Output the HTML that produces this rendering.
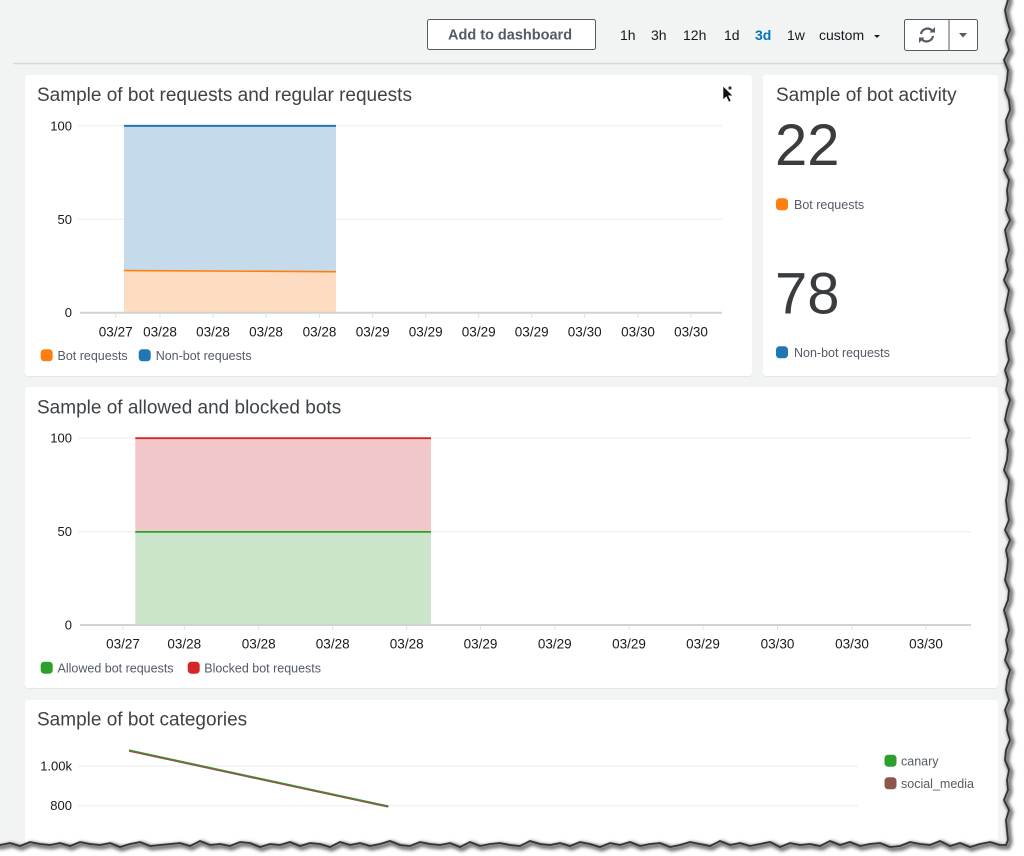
<!DOCTYPE html>
<html><head><meta charset="utf-8"><style>
html,body{margin:0;padding:0;width:1024px;height:856px;overflow:hidden;background:#fff}
svg{display:block}
text{font-family:"Liberation Sans",Arial,sans-serif}
.t{font-size:19px;fill:#3e4347}
.yl{font-size:13px;fill:#16191f;text-anchor:end}
.xl{font-size:13.5px;fill:#16191f;text-anchor:middle}
.lg{font-size:12.5px;fill:#545b64}
.tm{font-size:14px;fill:#16191f}
.grid{stroke:#eaeded;stroke-width:1}
.axis{stroke:#cfd3d3;stroke-width:2}
.tick{stroke:#dfe2e2;stroke-width:1}
</style></head><body>
<svg width="1024" height="856" viewBox="0 0 1024 856" xmlns="http://www.w3.org/2000/svg">
<defs>
<filter id="blur" x="-5%" y="-5%" width="110%" height="110%"><feGaussianBlur stdDeviation="1.6"/></filter>
</defs>
<rect x="0" y="0" width="1024" height="856" fill="#f2f3f3"/>

<rect x="427.5" y="19.5" width="168" height="30" rx="2" fill="#fff" stroke="#545b64" stroke-width="1"/>
<text x="448" y="39.5" style="font-size:14.5px;font-weight:bold;fill:#545b64">Add to dashboard</text>
<text class="tm" x="620" y="40">1h</text>
<text class="tm" x="651" y="40">3h</text>
<text class="tm" x="683" y="40">12h</text>
<text class="tm" x="724" y="40">1d</text>
<text class="tm" x="755" y="40" style="fill:#0073bb;font-weight:bold">3d</text>
<text class="tm" x="787" y="40">1w</text>
<text class="tm" x="819" y="40">custom</text>
<polygon points="874,35 880,35 877,38" fill="#16191f"/>
<rect x="904.5" y="19.5" width="73" height="31" rx="2" fill="#fff" stroke="#545b64" stroke-width="1"/>
<line x1="949" y1="19.5" x2="949" y2="50.5" stroke="#545b64" stroke-width="1"/>
<path d="M921,34 A6.5,6.5 0 0 1 932,30.5" fill="none" stroke="#545b64" stroke-width="2.2"/>
<polygon points="929.5,32.5 935,32.5 935,27" fill="#545b64"/>
<path d="M933,36 A6.5,6.5 0 0 1 922,39.5" fill="none" stroke="#545b64" stroke-width="2.2"/>
<polygon points="924.5,37.5 919,37.5 919,43" fill="#545b64"/>
<polygon points="959,33 967,33 963,37.5" fill="#545b64"/>
<line x1="13" y1="63.5" x2="1008" y2="63.5" stroke="#d5dbdb" stroke-width="1.5"/>

<rect x="25" y="76" width="727" height="301" rx="3" fill="#e4e7e7"/>
<rect x="25" y="75" width="727" height="301" rx="3" fill="#fff"/>
<rect x="763" y="76" width="235" height="301" rx="3" fill="#e4e7e7"/>
<rect x="763" y="75" width="235" height="301" rx="3" fill="#fff"/>
<rect x="25" y="388" width="973" height="301" rx="3" fill="#e4e7e7"/>
<rect x="25" y="387" width="973" height="301" rx="3" fill="#fff"/>
<rect x="25" y="700" width="973" height="143" rx="3" fill="#fff"/>

<text class="t" x="37" y="101">Sample of bot requests and regular requests</text>
<line class="grid" x1="78" y1="125.7" x2="722" y2="125.7"/>
<line class="grid" x1="78" y1="219.3" x2="722" y2="219.3"/>
<polygon points="124,125.7 336,125.7 336,271.7 124,270.5" fill="#c5daea"/>
<polygon points="124,270.5 336,271.7 336,312 124,312" fill="#fedcc2"/>
<line x1="124" y1="125.9" x2="336" y2="125.9" stroke="#1f77b4" stroke-width="2"/>
<line x1="124" y1="270.5" x2="336" y2="271.7" stroke="#ff7f0e" stroke-width="1.6"/>
<line class="axis" x1="80" y1="312.7" x2="722" y2="312.7"/>
<g class="tick">
<line x1="115.7" y1="314" x2="115.7" y2="318"/><line x1="160" y1="314" x2="160" y2="318"/><line x1="213" y1="314" x2="213" y2="318"/><line x1="266" y1="314" x2="266" y2="318"/><line x1="319.5" y1="314" x2="319.5" y2="318"/><line x1="372.7" y1="314" x2="372.7" y2="318"/><line x1="425.7" y1="314" x2="425.7" y2="318"/><line x1="478.7" y1="314" x2="478.7" y2="318"/><line x1="531.7" y1="314" x2="531.7" y2="318"/><line x1="584.7" y1="314" x2="584.7" y2="318"/><line x1="638" y1="314" x2="638" y2="318"/><line x1="691" y1="314" x2="691" y2="318"/>
</g>
<text class="yl" x="72" y="130.5">100</text>
<text class="yl" x="72" y="224">50</text>
<text class="yl" x="72" y="317">0</text>
<g>
<text class="xl" x="115.7" y="336.5">03/27</text><text class="xl" x="160" y="336.5">03/28</text><text class="xl" x="213" y="336.5">03/28</text><text class="xl" x="266" y="336.5">03/28</text><text class="xl" x="319.5" y="336.5">03/28</text><text class="xl" x="372.7" y="336.5">03/29</text><text class="xl" x="425.7" y="336.5">03/29</text><text class="xl" x="478.7" y="336.5">03/29</text><text class="xl" x="531.7" y="336.5">03/29</text><text class="xl" x="584.7" y="336.5">03/30</text><text class="xl" x="638" y="336.5">03/30</text><text class="xl" x="691" y="336.5">03/30</text>
</g>
<rect x="40.7" y="349.3" width="12" height="12" rx="3.5" fill="#ff7f0e"/>
<text class="lg" x="57.5" y="360">Bot requests</text>
<rect x="138.7" y="349.3" width="12" height="12" rx="3.5" fill="#1f77b4"/>
<text class="lg" x="155.7" y="360">Non-bot requests</text>

<polygon points="723,86 723,100 726.3,96.8 728.8,102 731,101 728.6,95.8 733,95.8" fill="#111" stroke="#fff" stroke-width="0.6"/>
<circle cx="730" cy="88" r="1.6" fill="#333"/>

<text class="t" x="776" y="101">Sample of bot activity</text>
<text x="775" y="165" style="font-size:58px;fill:#3a3d40">22</text>
<rect x="776" y="198.3" width="12" height="12" rx="3.5" fill="#ff7f0e"/>
<text class="lg" x="794" y="209">Bot requests</text>
<text x="775" y="313.5" style="font-size:58px;fill:#3a3d40">78</text>
<rect x="776" y="346.3" width="12" height="12" rx="3.5" fill="#1f77b4"/>
<text class="lg" x="794" y="357">Non-bot requests</text>

<text class="t" x="37" y="413.5">Sample of allowed and blocked bots</text>
<line class="grid" x1="78" y1="438" x2="971" y2="438"/>
<line class="grid" x1="78" y1="531.7" x2="971" y2="531.7"/>
<polygon points="135.3,438 431,438 431,531.7 135.3,531.7" fill="#f2c7c9"/>
<polygon points="135.3,531.7 431,531.7 431,624 135.3,624" fill="#cbe5ca"/>
<line x1="135.3" y1="438.2" x2="431" y2="438.2" stroke="#d62728" stroke-width="1.8"/>
<line x1="135.3" y1="531.9" x2="431" y2="531.9" stroke="#2ca02c" stroke-width="1.8"/>
<line class="axis" x1="80" y1="625" x2="971" y2="625"/>
<g class="tick">
<line x1="123" y1="626" x2="123" y2="630"/><line x1="184.3" y1="626" x2="184.3" y2="630"/><line x1="258.7" y1="626" x2="258.7" y2="630"/><line x1="332.7" y1="626" x2="332.7" y2="630"/><line x1="406.7" y1="626" x2="406.7" y2="630"/><line x1="480.5" y1="626" x2="480.5" y2="630"/><line x1="554.8" y1="626" x2="554.8" y2="630"/><line x1="629" y1="626" x2="629" y2="630"/><line x1="703" y1="626" x2="703" y2="630"/><line x1="777.5" y1="626" x2="777.5" y2="630"/><line x1="852" y1="626" x2="852" y2="630"/><line x1="926" y1="626" x2="926" y2="630"/>
</g>
<text class="yl" x="72" y="442.5">100</text>
<text class="yl" x="72" y="536">50</text>
<text class="yl" x="72" y="629.5">0</text>
<g>
<text class="xl" x="123" y="648.5">03/27</text><text class="xl" x="184.3" y="648.5">03/28</text><text class="xl" x="258.7" y="648.5">03/28</text><text class="xl" x="332.7" y="648.5">03/28</text><text class="xl" x="406.7" y="648.5">03/28</text><text class="xl" x="480.5" y="648.5">03/29</text><text class="xl" x="554.8" y="648.5">03/29</text><text class="xl" x="629" y="648.5">03/29</text><text class="xl" x="703" y="648.5">03/29</text><text class="xl" x="777.5" y="648.5">03/30</text><text class="xl" x="852" y="648.5">03/30</text><text class="xl" x="926" y="648.5">03/30</text>
</g>
<rect x="40.7" y="661.7" width="12" height="12" rx="3.5" fill="#2ca02c"/>
<text class="lg" x="57.5" y="672.3">Allowed bot requests</text>
<rect x="187.7" y="661.7" width="12" height="12" rx="3.5" fill="#d62728"/>
<text class="lg" x="204.3" y="672.3">Blocked bot requests</text>

<text class="t" x="37" y="725.5">Sample of bot categories</text>
<line class="grid" x1="78" y1="766" x2="858" y2="766"/>
<line class="grid" x1="78" y1="805.7" x2="858" y2="805.7"/>
<line x1="129" y1="750.2" x2="388.5" y2="806.2" stroke="#2ca02c" stroke-width="1.6"/>
<line x1="129" y1="751" x2="388" y2="806.9" stroke="#8c564b" stroke-width="1.5"/>
<text class="yl" x="72" y="770.5">1.00k</text>
<text class="yl" x="72" y="810">800</text>
<rect x="884.5" y="754.7" width="12" height="12" rx="3.5" fill="#2ca02c"/>
<text class="lg" x="901" y="765.5">canary</text>
<rect x="884.5" y="777.3" width="12" height="12" rx="3.5" fill="#8c564b"/>
<text class="lg" x="901" y="788">social_media</text>

<path fill="#fff" fill-rule="evenodd" d="M0,0 H1024 V856 H0 Z M-5,-5 L1009,-5 L1008,0 L1005,10 L1007,20 L1010,30 L1006,40 L1009,50 L1004,60 L1008,70 L1007,80 L1005,90 L1009,100 L1010,110 L1006,120 L1007,130 L1009,140 L1005,150 L1008,160 L1004,170 L1009,180 L1007,190 L1008,200 L1006,210 L1010,220 L1005,230 L1007,240 L1009,250 L1006,260 L1008,270 L1004,280 L1009,290 L1007,300 L1005,310 L1008,320 L1010,330 L1006,340 L1007,350 L1009,360 L1005,370 L1008,380 L1006,390 L1010,400 L1007,410 L1005,420 L1009,430 L1006,440 L1008,450 L1007,460 L1004,470 L1009,480 L1008,490 L1006,500 L1007,510 L1009,520 L1005,530 L1010,540 L1006,550 L1008,560 L1007,570 L1005,580 L1009,590 L1008,600 L1004,610 L1007,620 L1009,630 L1006,640 L1008,650 L1005,660 L1010,670 L1007,680 L1006,690 L1009,700 L1005,710 L1008,720 L1007,730 L1010,740 L1006,750 L1005,760 L1009,770 L1007,780 L1008,790 L1004,800 L1009,810 L1006,820 L1007,830 L1008,840 L1006,845 L1000,845 L990,842 L980,844 L970,847 L960,843 L950,846 L940,841 L930,845 L920,844 L910,842 L900,846 L890,847 L880,843 L870,844 L860,846 L850,842 L840,845 L830,841 L820,846 L810,844 L800,845 L790,843 L780,847 L770,842 L760,844 L750,846 L740,843 L730,845 L720,841 L710,846 L700,844 L690,842 L680,845 L670,847 L660,843 L650,844 L640,846 L630,842 L620,845 L610,843 L600,847 L590,844 L580,842 L570,846 L560,843 L550,845 L540,844 L530,841 L520,846 L510,845 L500,843 L490,844 L480,846 L470,842 L460,847 L450,843 L440,845 L430,844 L420,842 L410,846 L400,845 L390,841 L380,844 L370,846 L360,843 L350,845 L340,842 L330,847 L320,844 L310,843 L300,846 L290,842 L280,845 L270,844 L260,847 L250,843 L240,842 L230,846 L220,844 L210,845 L200,841 L190,846 L180,843 L170,844 L160,845 L150,846 L140,842 L130,844 L120,847 L110,843 L100,845 L90,844 L80,842 L70,846 L60,843 L50,845 L40,844 L30,842 L20,846 L10,843 L0,845 L-5,845 Z"/>
<path fill="none" stroke="#777" stroke-width="5" filter="url(#blur)" transform="translate(2,2)" d="M1008,-5 L1008,0 L1005,10 L1007,20 L1010,30 L1006,40 L1009,50 L1004,60 L1008,70 L1007,80 L1005,90 L1009,100 L1010,110 L1006,120 L1007,130 L1009,140 L1005,150 L1008,160 L1004,170 L1009,180 L1007,190 L1008,200 L1006,210 L1010,220 L1005,230 L1007,240 L1009,250 L1006,260 L1008,270 L1004,280 L1009,290 L1007,300 L1005,310 L1008,320 L1010,330 L1006,340 L1007,350 L1009,360 L1005,370 L1008,380 L1006,390 L1010,400 L1007,410 L1005,420 L1009,430 L1006,440 L1008,450 L1007,460 L1004,470 L1009,480 L1008,490 L1006,500 L1007,510 L1009,520 L1005,530 L1010,540 L1006,550 L1008,560 L1007,570 L1005,580 L1009,590 L1008,600 L1004,610 L1007,620 L1009,630 L1006,640 L1008,650 L1005,660 L1010,670 L1007,680 L1006,690 L1009,700 L1005,710 L1008,720 L1007,730 L1010,740 L1006,750 L1005,760 L1009,770 L1007,780 L1008,790 L1004,800 L1009,810 L1006,820 L1007,830 L1008,840 L1006,845 L1000,845 L990,842 L980,844 L970,847 L960,843 L950,846 L940,841 L930,845 L920,844 L910,842 L900,846 L890,847 L880,843 L870,844 L860,846 L850,842 L840,845 L830,841 L820,846 L810,844 L800,845 L790,843 L780,847 L770,842 L760,844 L750,846 L740,843 L730,845 L720,841 L710,846 L700,844 L690,842 L680,845 L670,847 L660,843 L650,844 L640,846 L630,842 L620,845 L610,843 L600,847 L590,844 L580,842 L570,846 L560,843 L550,845 L540,844 L530,841 L520,846 L510,845 L500,843 L490,844 L480,846 L470,842 L460,847 L450,843 L440,845 L430,844 L420,842 L410,846 L400,845 L390,841 L380,844 L370,846 L360,843 L350,845 L340,842 L330,847 L320,844 L310,843 L300,846 L290,842 L280,845 L270,844 L260,847 L250,843 L240,842 L230,846 L220,844 L210,845 L200,841 L190,846 L180,843 L170,844 L160,845 L150,846 L140,842 L130,844 L120,847 L110,843 L100,845 L90,844 L80,842 L70,846 L60,843 L50,845 L40,844 L30,842 L20,846 L10,843 L0,845 L-5,845"/>
<path fill="none" stroke="#333" stroke-width="1.8" d="M1008,-5 L1008,0 L1005,10 L1007,20 L1010,30 L1006,40 L1009,50 L1004,60 L1008,70 L1007,80 L1005,90 L1009,100 L1010,110 L1006,120 L1007,130 L1009,140 L1005,150 L1008,160 L1004,170 L1009,180 L1007,190 L1008,200 L1006,210 L1010,220 L1005,230 L1007,240 L1009,250 L1006,260 L1008,270 L1004,280 L1009,290 L1007,300 L1005,310 L1008,320 L1010,330 L1006,340 L1007,350 L1009,360 L1005,370 L1008,380 L1006,390 L1010,400 L1007,410 L1005,420 L1009,430 L1006,440 L1008,450 L1007,460 L1004,470 L1009,480 L1008,490 L1006,500 L1007,510 L1009,520 L1005,530 L1010,540 L1006,550 L1008,560 L1007,570 L1005,580 L1009,590 L1008,600 L1004,610 L1007,620 L1009,630 L1006,640 L1008,650 L1005,660 L1010,670 L1007,680 L1006,690 L1009,700 L1005,710 L1008,720 L1007,730 L1010,740 L1006,750 L1005,760 L1009,770 L1007,780 L1008,790 L1004,800 L1009,810 L1006,820 L1007,830 L1008,840 L1006,845 L1000,845 L990,842 L980,844 L970,847 L960,843 L950,846 L940,841 L930,845 L920,844 L910,842 L900,846 L890,847 L880,843 L870,844 L860,846 L850,842 L840,845 L830,841 L820,846 L810,844 L800,845 L790,843 L780,847 L770,842 L760,844 L750,846 L740,843 L730,845 L720,841 L710,846 L700,844 L690,842 L680,845 L670,847 L660,843 L650,844 L640,846 L630,842 L620,845 L610,843 L600,847 L590,844 L580,842 L570,846 L560,843 L550,845 L540,844 L530,841 L520,846 L510,845 L500,843 L490,844 L480,846 L470,842 L460,847 L450,843 L440,845 L430,844 L420,842 L410,846 L400,845 L390,841 L380,844 L370,846 L360,843 L350,845 L340,842 L330,847 L320,844 L310,843 L300,846 L290,842 L280,845 L270,844 L260,847 L250,843 L240,842 L230,846 L220,844 L210,845 L200,841 L190,846 L180,843 L170,844 L160,845 L150,846 L140,842 L130,844 L120,847 L110,843 L100,845 L90,844 L80,842 L70,846 L60,843 L50,845 L40,844 L30,842 L20,846 L10,843 L0,845 L-5,845"/>
</svg>
</body></html>
